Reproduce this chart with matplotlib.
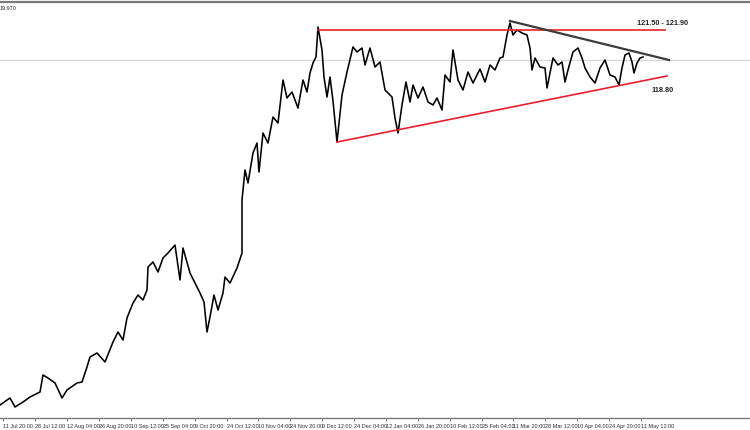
import matplotlib
matplotlib.use("Agg")
import matplotlib.pyplot as plt

# ---- data ----
bar_x = [0, 10, 15, 23, 30, 40, 43, 48, 55, 62, 67, 77, 82, 87, 90, 97, 105, 113, 118, 123,
         127, 133, 138, 143, 147, 148, 153, 158, 163, 168, 175, 180, 183, 190, 195, 200, 204, 207, 210, 214,
         218, 223, 225, 230, 237, 242, 242, 245, 248, 253, 257, 259, 263, 268, 273, 278, 283, 287, 292, 298,
         303, 307, 310, 313, 316, 318, 322, 324, 327, 330, 333, 337, 342, 347, 353, 357, 362, 365, 370, 375,
         380, 385, 392, 395, 398, 402, 406, 410, 413, 418, 423, 428, 433, 437, 442, 445, 450, 453, 458, 463,
         468, 473, 480, 485, 490, 495, 500, 503, 507, 510, 513, 517, 522, 527, 530, 532, 535, 540, 545, 547,
         550, 553, 558, 562, 565, 568, 573, 578, 582, 585, 590, 595, 600, 605, 610, 615, 619, 622, 625, 629,
         632, 634, 637, 640, 643]
price = [99.30, 99.72, 99.18, 99.48, 99.78, 100.08, 101.10, 100.92, 100.62, 99.72, 100.20, 100.62, 100.68, 101.58, 102.18, 102.42, 101.88, 103.08, 103.68, 103.20,
         104.52, 105.42, 105.90, 105.60, 106.20, 107.58, 107.88, 107.28, 108.12, 108.42, 108.90, 106.80, 108.72, 107.22, 106.62, 106.02, 105.48, 103.68, 104.58, 105.90,
         105.00, 106.02, 106.98, 106.62, 107.52, 108.42, 111.60, 113.40, 112.62, 114.42, 115.02, 113.28, 115.62, 115.02, 116.58, 116.22, 118.80, 117.72, 118.08, 117.12,
         118.80, 118.08, 119.22, 119.82, 120.18, 121.98, 120.60, 118.98, 117.78, 118.98, 117.54, 115.08, 117.90, 119.28, 120.78, 120.48, 120.72, 119.70, 120.72, 119.58,
         119.88, 118.20, 117.78, 116.52, 115.62, 117.30, 118.68, 117.48, 118.50, 117.72, 118.38, 117.48, 117.30, 117.72, 117.00, 119.10, 118.68, 120.60, 118.80, 118.20,
         119.28, 118.62, 119.46, 118.68, 119.70, 119.40, 120.12, 120.18, 121.50, 122.22, 121.50, 121.80, 121.62, 121.50, 120.72, 119.40, 120.12, 119.58, 119.52, 118.32,
         119.22, 120.12, 119.70, 119.88, 118.68, 119.40, 120.48, 120.72, 120.12, 119.52, 118.98, 118.62, 119.52, 120.00, 119.10, 118.98, 118.50, 119.52, 120.30, 120.42,
         119.88, 119.22, 119.82, 120.12, 120.18]

tick_pos = [3, 35, 67, 99, 131, 163, 195, 227, 258, 290, 322, 354, 386, 418, 450, 482, 513, 545, 577, 609, 641]
tick_labels = ["11 Jul 20:00", "28 Jul 12:00", "12 Aug 04:00", "26 Aug 20:00", "10 Sep 12:00",
               "25 Sep 04:00", "9 Oct 20:00", "24 Oct 12:00", "10 Nov 04:00", "24 Nov 20:00",
               "9 Dec 12:00", "24 Dec 04:00", "12 Jan 04:00", "26 Jan 20:00", "10 Feb 12:00",
               "25 Feb 04:00", "11 Mar 20:00", "28 Mar 12:00", "10 Apr 04:00", "24 Apr 20:00",
               "11 May 12:00"]

current_price = 120.0
resistance_x = [318, 665]
resistance_y = [121.80, 121.80]
down_trend_x = [510, 669]
down_trend_y = [122.34, 120.00]
up_trend_x = [337, 667]
up_trend_y = [115.08, 119.04]

FONT = "Liberation Sans"

# ---- figure ----
fig = plt.figure(figsize=(7.5, 4.3), dpi=100)
ax = fig.add_axes([0.0, 12 / 430, 1.0, 416 / 430])
ax.set_xlim(0, 750)
ax.set_ylim(98.52, 123.48)

ax.axhline(current_price, color="#d9d9d9", lw=1.0, zorder=1)
ax.plot(bar_x, price, color="black", lw=1.15, zorder=3)
ax.plot(resistance_x, resistance_y, color="#e8202a", lw=1.2, zorder=4)
ax.plot(up_trend_x, up_trend_y, color="#e8202a", lw=1.2, zorder=4)
ax.plot(down_trend_x, down_trend_y, color="#3c3c3c", lw=1.6, zorder=4)

ax.text(637, 122.22, "121.50 - 121.90", fontsize=5.2, fontweight="bold", color="#202020",
        ha="left", va="center", family=FONT)
ax.text(651, 118.2, "118.80", fontsize=5.2, fontweight="bold", color="#202020",
        ha="left", va="center", family=FONT)

for s in ["left", "right"]:
    ax.spines[s].set_visible(False)
ax.spines["top"].set_color("#7a7a7a")
ax.spines["top"].set_linewidth(1.6)
ax.spines["bottom"].set_color("#7a7a7a")
ax.spines["bottom"].set_linewidth(1.0)

ax.set_yticks([])
ax.set_xticks(tick_pos)
ax.set_xticklabels(tick_labels, ha="left", fontsize=4.0, color="#303030", family=FONT)
ax.tick_params(axis="x", direction="out", length=2.5, width=0.6, color="#555555", pad=1.5)

fig.text(0.0, 1 - 8 / 430, "19.970", fontsize=4.0, color="#303030", ha="left", va="center",
         family=FONT)

fig.savefig("out.png", dpi=100, facecolor="white")
